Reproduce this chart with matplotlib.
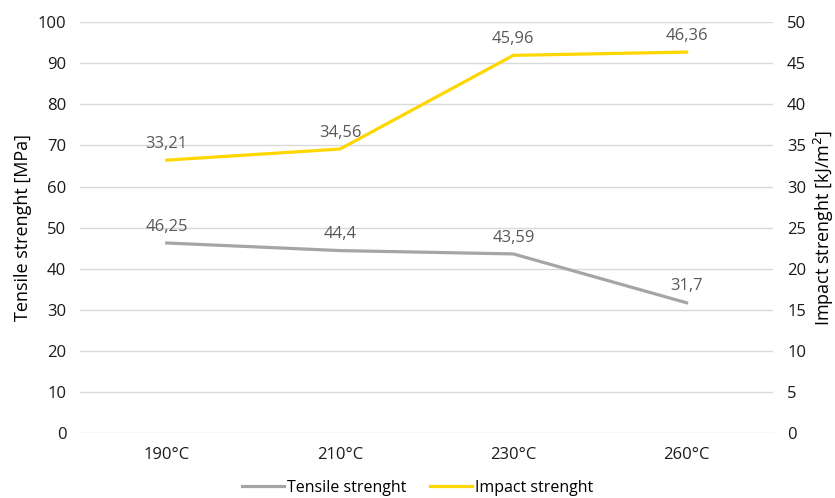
import matplotlib.pyplot as plt

plt.rcParams['font.family'] = ['Open Sans', 'DejaVu Sans']

temps = ["190°C", "210°C", "230°C", "260°C"]
tensile = [46.25, 44.4, 43.59, 31.7]
impact = [33.21, 34.56, 45.96, 46.36]
tensile_lbl = ["46,25", "44,4", "43,59", "31,7"]
impact_lbl = ["33,21", "34,56", "45,96", "46,36"]

fig = plt.figure(figsize=(8.35, 4.98), dpi=100)
ax = fig.add_axes([0.096, 0.1305, 0.830, 0.825])
ax2 = ax.twinx()

x = range(len(temps))
l1, = ax.plot(x, tensile, color='#A5A5A5', lw=2.3, label='Tensile strenght')
l2, = ax2.plot(x, impact, color='#FFD700', lw=2.3, label='Impact strenght')

for i, t in enumerate(tensile_lbl):
    ax.annotate(t, (i, tensile[i]), xytext=(0, 6), textcoords='offset points',
                ha='center', va='bottom', fontsize=12, color='#595959')
for i, t in enumerate(impact_lbl):
    ax2.annotate(t, (i, impact[i]), xytext=(0, 6), textcoords='offset points',
                 ha='center', va='bottom', fontsize=12, color='#595959')

ax.set_xlim(-0.5, 3.5)
ax.set_ylim(0, 100)
ax2.set_ylim(0, 50)
ax.set_yticks(range(0, 101, 10))
ax2.set_yticks(range(0, 51, 5))
ax.set_xticks(list(x))
ax.set_xticklabels(temps)

ax.grid(axis='y', color='#D9D9D9', lw=1)
ax.set_axisbelow(True)
for a in (ax, ax2):
    for s in a.spines.values():
        s.set_visible(False)
    a.tick_params(length=0, labelsize=12, colors='#1a1a1a', pad=10)

ax.set_ylabel("Tensile strenght [MPa]", fontsize=13, color='black', labelpad=4)
ax2.set_ylabel("Impact strenght [kJ/m$^2$]", fontsize=13, color='black', labelpad=4)

fig.legend(handles=[l1, l2], loc='lower center', bbox_to_anchor=(0.5, -0.025),
           ncol=2, frameon=False, fontsize=11.5, handlelength=2.6,
           handletextpad=0.2, columnspacing=1.5)

fig.savefig('out.png', dpi=100)
